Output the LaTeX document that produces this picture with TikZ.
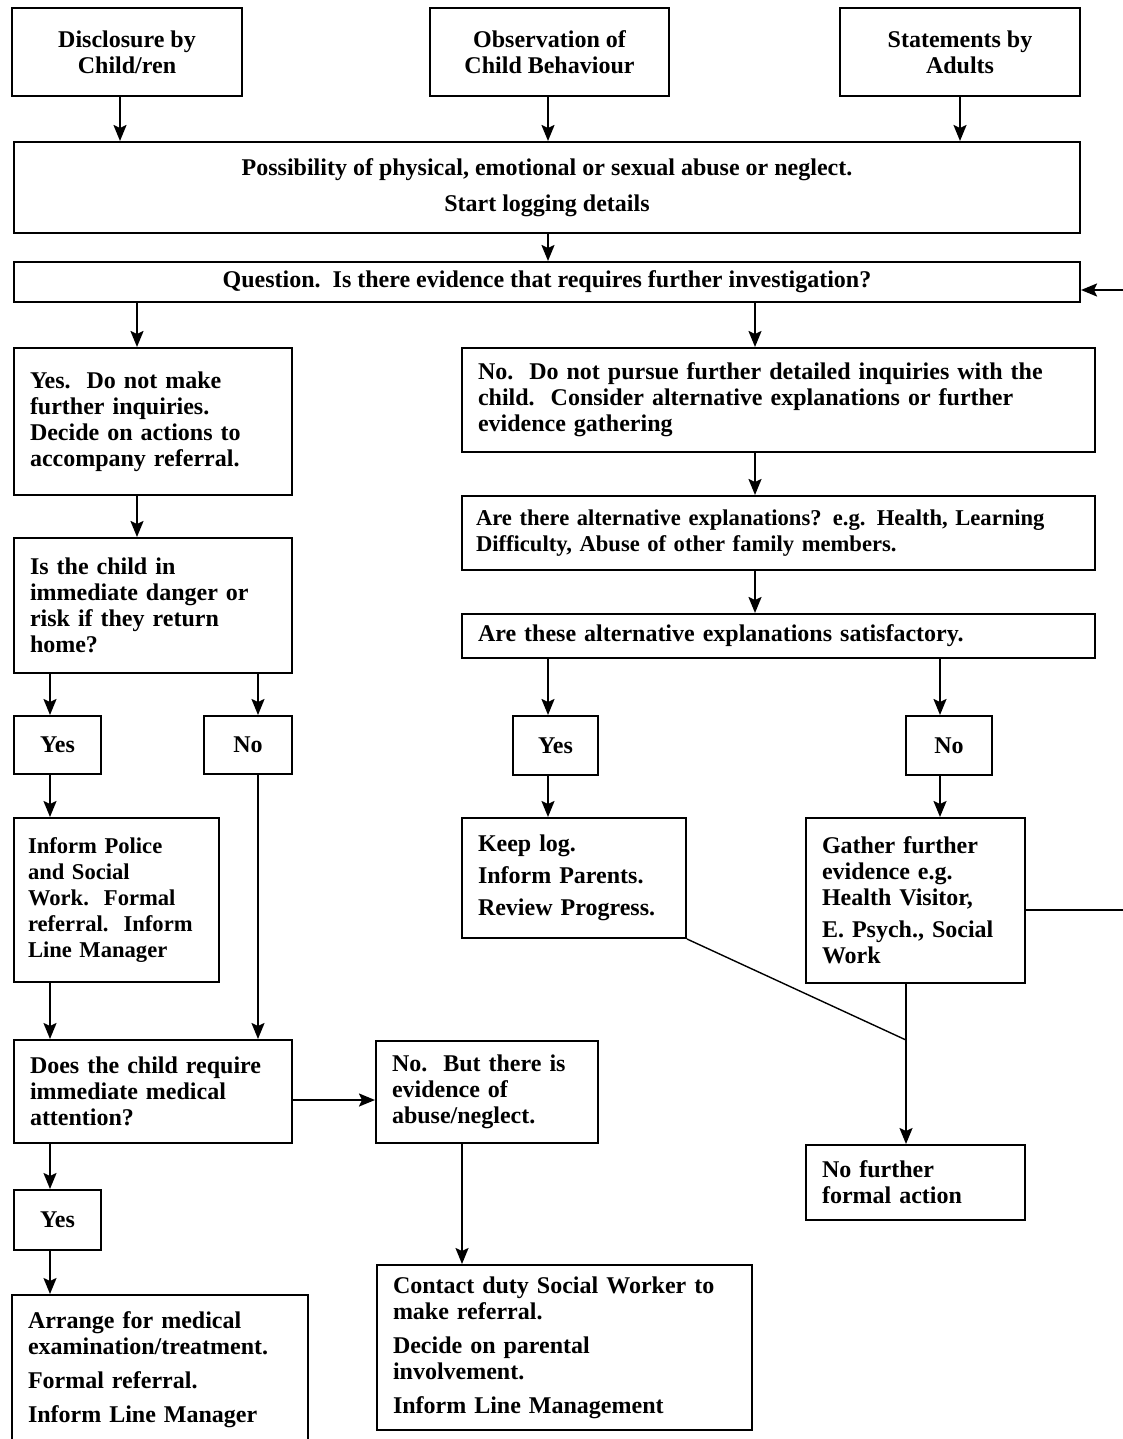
\documentclass[tikz,border=0pt]{standalone}
\usepackage{fontspec}
\setmainfont{Liberation Serif}
\usetikzlibrary{arrows.meta}
\hyphenpenalty=10000
\tikzset{box/.style={draw,line width=1pt,inner xsep=8pt,inner ysep=2pt,
                     font=\bfseries\fontsize{12}{13}\selectfont},
         cbox/.style={box,align=center},
         lbox/.style={box,align=left},
         small/.style={font=\bfseries\fontsize{11.3}{13}\selectfont}}

\begin{document}
\begin{tikzpicture}[x=0.5pt,y=-0.5pt,line width=1pt,>={Stealth[length=8pt,width=6.5pt,inset=1.5pt]}]
    \useasboundingbox (0,0) rectangle (1123,1439);
    % sources
    \node[cbox,minimum width=115pt,minimum height=44pt] (disclosure) at (127,52) {Disclosure by\\Child/ren};
    \node[cbox,minimum width=119.5pt,minimum height=44pt] (observation) at (549.5,52) {Observation of\\Child Behaviour};
    \node[cbox,minimum width=120pt,minimum height=44pt] (statements) at (960,52) {Statements by\\Adults};
    \node[cbox,minimum width=533pt,minimum height=45.5pt] (possibility) at (547,187.5)
        {Possibility of physical, emotional or sexual abuse or neglect.\\[5pt]Start logging details};
    \node[cbox,minimum width=533pt,minimum height=20pt] (question) at (547,282)
        {Question.\ \ Is there evidence that requires further investigation?};
    % left branch
    \node[lbox,text width=123pt,minimum height=73.5pt] (yesact) at (153,421.5)
        {Yes.\ \ Do not make\\further inquiries.\\Decide on actions to\\accompany referral.};
    \node[lbox,text width=123pt,minimum height=67.5pt] (danger) at (153,605.5)
        {Is the child in\\immediate danger or\\risk if they return\\home?};
    \node[cbox,minimum width=43.5pt,minimum height=29pt] (yesdanger) at (57.5,745) {Yes};
    \node[cbox,minimum width=44pt,minimum height=29pt] (nodanger) at (248,745) {No};
    \node[lbox,small,text width=88.5pt,inner xsep=7pt,minimum height=82pt] (police) at (116.5,900)
        {Inform Police\\and Social\\Work.\ \ Formal\\referral.\ \ Inform\\Line Manager};
    \node[lbox,text width=123pt,minimum height=51.5pt] (medical) at (153,1091.5)
        {Does the child require\\immediate medical\\attention?};
    \node[lbox,text width=95pt,minimum height=51pt] (evidence) at (487,1092)
        {No.\ \ But there is\\evidence of\\abuse/neglect.};
    \node[cbox,minimum width=43.5pt,minimum height=30pt] (yesmedical) at (57.5,1220) {Yes};
    \node[lbox,text width=132pt,minimum height=75pt] (arrange) at (160,1370)
        {Arrange for medical\\examination/treatment.\\[4pt]Formal referral.\\[4pt]Inform Line Manager};
    \node[lbox,text width=171.5pt,minimum height=82.5pt] (contact) at (564.5,1347.5)
        {Contact duty Social Worker to\\make referral.\\[4pt]Decide on parental\\involvement.\\[4pt]Inform Line Management};
    % right branch
    \node[lbox,text width=300.5pt,minimum height=52pt] (noact) at (778.5,400)
        {No.\ \ Do not pursue further detailed inquiries with the\\child.\ \ Consider alternative explanations or further\\evidence gathering};
    \node[lbox,small,text width=302.5pt,inner xsep=7pt,minimum height=37pt] (alternative) at (778.5,533)
        {Are there alternative explanations? e.g. Health, Learning\\Difficulty, Abuse of other family members.};
    \node[lbox,text width=300.5pt,minimum height=22pt] (satisfactory) at (778.5,636)
        {Are these alternative explanations satisfactory.};
    \node[cbox,minimum width=42.5pt,minimum height=29.5pt] (yessatis) at (555.5,745.5) {Yes};
    \node[cbox,minimum width=43pt,minimum height=29.5pt] (nosatis) at (949,745.5) {No};
    \node[lbox,text width=96pt,minimum height=60pt] (keeplog) at (574,878)
        {Keep log.\\[3pt]Inform Parents.\\[3pt]Review Progress.};
    \node[lbox,text width=93.5pt,minimum height=82.5pt] (gather) at (915.5,900.5)
        {Gather further\\evidence e.g.\\Health Visitor,\\[3pt]E. Psych., Social\\Work};
    \node[lbox,text width=93.5pt,minimum height=37.5pt] (nofurther) at (915.5,1182.5)
        {No further\\formal action};
    % arrows
    \draw[->] (disclosure.south -| 120,0) -- (possibility.north -| 120,0);
    \draw[->] (observation.south -| 548,0) -- (possibility.north -| 548,0);
    \draw[->] (statements.south) -- (possibility.north -| statements.south);
    \draw[->] (possibility.south -| 548,0) -- (question.north -| 548,0);
    \draw[->] (question.south -| 137,0) -- (yesact.north -| 137,0);
    \draw[->] (question.south -| 755,0) -- (noact.north -| 755,0);
    \draw[->] (yesact.south -| 137,0) -- (danger.north -| 137,0);
    \draw[->] (noact.south -| 755,0) -- (alternative.north -| 755,0);
    \draw[->] (alternative.south -| 755,0) -- (satisfactory.north -| 755,0);
    \draw[->] (danger.south -| 50,0) -- (yesdanger.north -| 50,0);
    \draw[->] (danger.south -| 258,0) -- (nodanger.north -| 258,0);
    \draw[->] (satisfactory.south -| 548,0) -- (yessatis.north -| 548,0);
    \draw[->] (satisfactory.south -| 940,0) -- (nosatis.north -| 940,0);
    \draw[->] (yesdanger.south -| 50,0) -- (police.north -| 50,0);
    \draw[->] (nodanger.south -| 258,0) -- (medical.north -| 258,0);
    \draw[->] (police.south -| 50,0) -- (medical.north -| 50,0);
    \draw[->] (medical.east |- 0,1100) -- (evidence.west |- 0,1100);
    \draw[->] (medical.south -| 50,0) -- (yesmedical.north -| 50,0);
    \draw[->] (yesmedical.south -| 50,0) -- (arrange.north -| 50,0);
    \draw[->] (evidence.south -| 462,0) -- (contact.north -| 462,0);
    \draw[->] (yessatis.south -| 548,0) -- (keeplog.north -| 548,0);
    \draw[->] (nosatis.south -| 940,0) -- (gather.north -| 940,0);
    \draw[->] (gather.south -| 906,0) -- (nofurther.north -| 906,0);
    \draw[line width=0.7pt] (keeplog.south east) -- (906,1040);
    % back to the question
    \draw[->] (gather.east |- 0,910) -- (1150,910) -- (1150,290) -- (question.east |- 0,290);
\end{tikzpicture}
\end{document}
